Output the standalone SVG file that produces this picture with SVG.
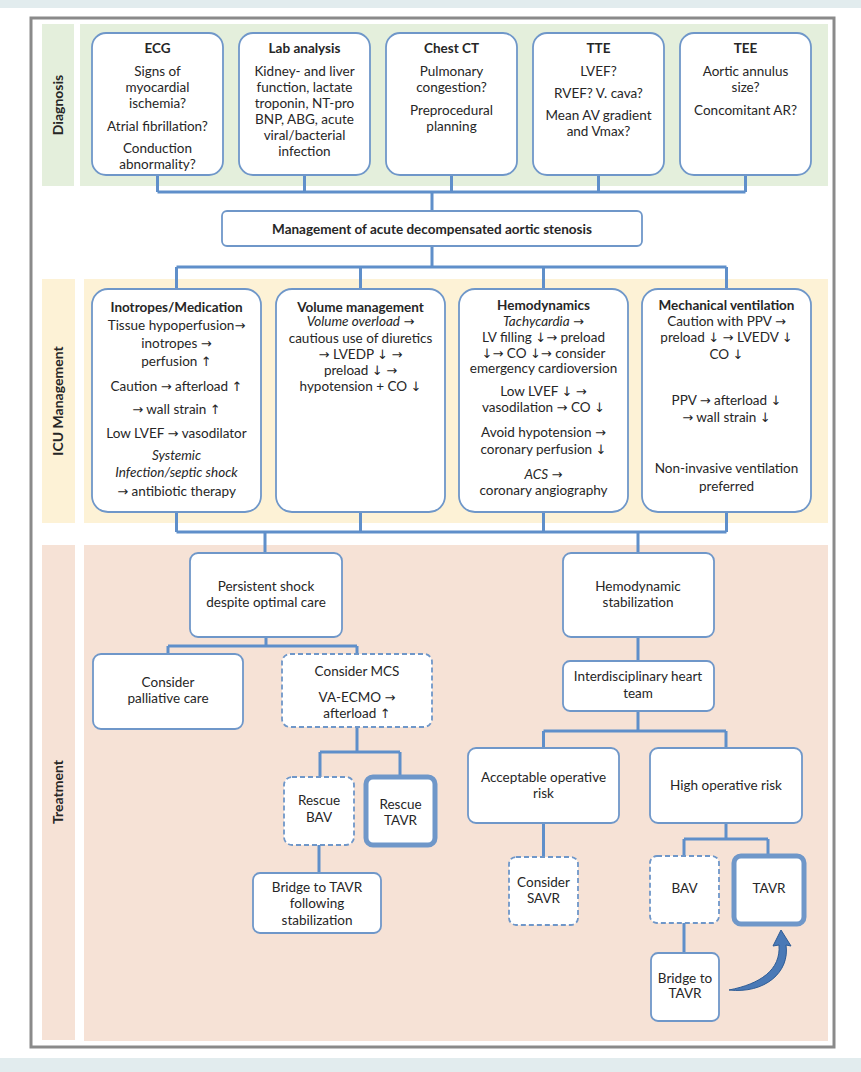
<svg xmlns="http://www.w3.org/2000/svg" width="861" height="1072" viewBox="0 0 861 1072">
<style>
text{font-family:Lato,"Liberation Sans","DejaVu Sans",sans-serif;font-size:13.5px;fill:#262626;text-anchor:middle}
.b{font-weight:bold}
.i{font-style:italic}
.a{font-family:"DejaVu Sans",sans-serif;font-style:normal;font-size:13px}
.lab{font-weight:bold;font-size:14px}
.box{fill:#fff;stroke:#6f97c9;stroke-width:1.8}
.dash{fill:#fff;stroke:#6f97c9;stroke-width:1.8;stroke-dasharray:5 3}
.thick{fill:#fff;stroke:#6f97c9;stroke-width:5}
.con{fill:none;stroke:#5f8fca;stroke-width:3}
</style>
<rect x="0" y="0" width="861" height="1072" fill="#fff"/>
<rect x="0" y="0" width="861" height="8" fill="#e2ecee"/>
<rect x="0" y="1058" width="861" height="14" fill="#e2ecee"/>
<rect x="31" y="18" width="803" height="1029" fill="#fff" stroke="#8a8a8a" stroke-width="3"/>
<g id="bands">
<rect x="42" y="24" width="32" height="162" fill="#e4efdc"/>
<rect x="80" y="24" width="748" height="162" fill="#e4efdc"/>
<rect x="42" y="279" width="33" height="244" fill="#fdf2d6"/>
<rect x="84" y="279" width="744" height="244" fill="#fdf2d6"/>
<rect x="42" y="545" width="33" height="495" fill="#f6e2d6"/>
<rect x="84" y="545" width="744" height="496" fill="#f6e2d6"/>
<text class="lab" transform="translate(63,105) rotate(-90)">Diagnosis</text>
<text class="lab" transform="translate(63,401) rotate(-90)">ICU Management</text>
<text class="lab" transform="translate(63,792) rotate(-90)">Treatment</text>
</g>
<g id="connectors">
<path class="con" d="M157.5,175V192M304.5,175V192M451.5,175V192M598.5,175V192M745.5,175V192M157.5,192H745.5M432,192V211"/>
<path class="con" d="M432,246V267M176.5,267H726.5M176.5,267V289M360.5,267V289M543.5,267V289M726.5,267V289"/>
<path class="con" d="M176.5,512V532M360.5,512V532M543.5,512V532M726.5,512V532M176.5,532H726.5M265,532V553M638,532V553"/>
<path class="con" d="M266,637V646M168,646H357M168,646V654M357,646V654"/>
<path class="con" d="M357,727V752M320,752H400M320,752V777M400,752V776M319,845V873"/>
<path class="con" d="M638,637V661M638,711V731M543.5,731H726M543.5,731V748M726,731V748"/>
<path class="con" d="M543.5,823V857M726,823V839M684,839H768M684,839V856M768,839V854M684,923V953"/>
<path d="M729,990 C765,994 790,972 786,945 L791,946 L781,930 L773,946 L779,945 C781,970 760,984 729,990 Z" fill="#4a79b6" stroke="#2e5c95" stroke-width="1"/>
</g>
<g id="ecg">
<rect class="box" x="92" y="33" width="131" height="142" rx="14"/>
<text class="b" x="157.5" y="53">ECG</text>
<text x="157.5" y="76">Signs of</text>
<text x="157.5" y="92">myocardial</text>
<text x="157.5" y="108">ischemia?</text>
<text x="157.5" y="131">Atrial fibrillation?</text>
<text x="157.5" y="153">Conduction</text>
<text x="157.5" y="169">abnormality?</text>
</g>
<g id="lab">
<rect class="box" x="239" y="33" width="131" height="142" rx="14"/>
<text class="b" x="304.5" y="53">Lab analysis</text>
<text x="304.5" y="76">Kidney- and liver</text>
<text x="304.5" y="92">function, lactate</text>
<text x="304.5" y="108">troponin, NT-pro</text>
<text x="304.5" y="124">BNP, ABG, acute</text>
<text x="304.5" y="140">viral/bacterial</text>
<text x="304.5" y="156">infection</text>
</g>
<g id="ct">
<rect class="box" x="386" y="33" width="131" height="142" rx="14"/>
<text class="b" x="451.5" y="53">Chest CT</text>
<text x="451.5" y="76">Pulmonary</text>
<text x="451.5" y="92">congestion?</text>
<text x="451.5" y="115">Preprocedural</text>
<text x="451.5" y="131">planning</text>
</g>
<g id="tte">
<rect class="box" x="533" y="33" width="131" height="142" rx="14"/>
<text class="b" x="598.5" y="53">TTE</text>
<text x="598.5" y="76">LVEF?</text>
<text x="598.5" y="98">RVEF? V. cava?</text>
<text x="598.5" y="120">Mean AV gradient</text>
<text x="598.5" y="136">and Vmax?</text>
</g>
<g id="tee">
<rect class="box" x="680" y="33" width="131" height="142" rx="14"/>
<text class="b" x="745.5" y="53">TEE</text>
<text x="745.5" y="76">Aortic annulus</text>
<text x="745.5" y="92">size?</text>
<text x="745.5" y="115">Concomitant AR?</text>
</g>
<g id="management">
<rect class="box" x="222" y="211" width="420" height="35" rx="5"/>
<text class="b" x="432" y="234">Management of acute decompensated aortic stenosis</text>
</g>
<g id="inotropes">
<rect class="box" x="92" y="289" width="169" height="223" rx="16"/>
<text class="b" x="176.5" y="312">Inotropes/Medication</text>
<text x="176.5" y="330">Tissue hypoperfusion<tspan class="a">→</tspan></text>
<text x="176.5" y="348">inotropes <tspan class="a">→</tspan></text>
<text x="176.5" y="366">perfusion <tspan class="a">↑</tspan></text>
<text x="176.5" y="391">Caution <tspan class="a">→</tspan> afterload <tspan class="a">↑</tspan></text>
<text x="176.5" y="414"><tspan class="a">→</tspan> wall strain <tspan class="a">↑</tspan></text>
<text x="176.5" y="438">Low LVEF <tspan class="a">→</tspan> vasodilator</text>
<text class="i" x="176.5" y="460">Systemic</text>
<text class="i" x="176.5" y="477">Infection/septic shock</text>
<text x="176.5" y="496"><tspan class="a">→</tspan> antibiotic therapy</text>
</g>
<g id="volume">
<rect class="box" x="276" y="289" width="169" height="223" rx="16"/>
<text class="b" x="360.5" y="312">Volume management</text>
<text x="360.5" y="326"><tspan class="i">Volume overload</tspan> <tspan class="a">→</tspan></text>
<text x="360.5" y="343">cautious use of diuretics</text>
<text x="360.5" y="359"><tspan class="a">→</tspan> LVEDP <tspan class="a">↓</tspan> <tspan class="a">→</tspan></text>
<text x="360.5" y="375">preload <tspan class="a">↓</tspan> <tspan class="a">→</tspan></text>
<text x="360.5" y="391">hypotension + CO <tspan class="a">↓</tspan></text>
</g>
<g id="hemodynamics">
<rect class="box" x="459" y="289" width="169" height="223" rx="16"/>
<text class="b" x="543.5" y="310">Hemodynamics</text>
<text x="543.5" y="326"><tspan class="i">Tachycardia</tspan> <tspan class="a">→</tspan></text>
<text x="543.5" y="342">LV filling <tspan class="a">↓→</tspan> preload</text>
<text x="543.5" y="358"><tspan class="a">↓→</tspan> CO <tspan class="a">↓→</tspan> consider</text>
<text x="543.5" y="373">emergency cardioversion</text>
<text x="543.5" y="396">Low LVEF <tspan class="a">↓</tspan>  <tspan class="a">→</tspan></text>
<text x="543.5" y="412">vasodilation <tspan class="a">→</tspan> CO <tspan class="a">↓</tspan></text>
<text x="543.5" y="437">Avoid hypotension <tspan class="a">→</tspan></text>
<text x="543.5" y="454">coronary perfusion <tspan class="a">↓</tspan></text>
<text x="543.5" y="479"><tspan class="i">ACS</tspan> <tspan class="a">→</tspan></text>
<text x="543.5" y="495">coronary angiography</text>
</g>
<g id="ventilation">
<rect class="box" x="642" y="289" width="169" height="223" rx="16"/>
<text class="b" x="726.5" y="310">Mechanical ventilation</text>
<text x="726.5" y="326">Caution with PPV <tspan class="a">→</tspan></text>
<text x="726.5" y="342">preload <tspan class="a">↓</tspan> <tspan class="a">→</tspan> LVEDV <tspan class="a">↓</tspan></text>
<text x="726.5" y="359">CO <tspan class="a">↓</tspan></text>
<text x="726.5" y="405">PPV <tspan class="a">→</tspan> afterload <tspan class="a">↓</tspan></text>
<text x="726.5" y="422"><tspan class="a">→</tspan> wall strain  <tspan class="a">↓</tspan></text>
<text x="726.5" y="473">Non-invasive ventilation</text>
<text x="726.5" y="491">preferred</text>
</g>
<g id="persistent-shock">
<rect class="box" x="190" y="553" width="152" height="84" rx="8"/>
<text x="266" y="591">Persistent shock</text>
<text x="266" y="607">despite optimal care</text>
</g>
<g id="palliative">
<rect class="box" x="93" y="654" width="150" height="75" rx="8"/>
<text x="168" y="687">Consider</text>
<text x="168" y="703">palliative care</text>
</g>
<g id="mcs">
<rect class="dash" x="282" y="654" width="150" height="73" rx="8"/>
<text x="357" y="676">Consider MCS</text>
<text x="357" y="702">VA-ECMO <tspan class="a">→</tspan></text>
<text x="357" y="718">afterload <tspan class="a">↑</tspan></text>
</g>
<g id="rescue-bav">
<rect class="dash" x="284" y="777" width="70" height="68" rx="8"/>
<text x="319" y="805">Rescue</text>
<text x="319" y="822">BAV</text>
</g>
<g id="rescue-tavr">
<rect class="thick" x="366" y="777" width="69" height="68" rx="7"/>
<text x="400.5" y="809">Rescue</text>
<text x="400.5" y="825">TAVR</text>
</g>
<g id="bridge-stabilization">
<rect class="box" x="253" y="873" width="128" height="60" rx="7"/>
<text x="317" y="892">Bridge to TAVR</text>
<text x="317" y="908">following</text>
<text x="317" y="925">stabilization</text>
</g>
<g id="hemodynamic-stabilization">
<rect class="box" x="563" y="553" width="151" height="84" rx="8"/>
<text x="638" y="591">Hemodynamic</text>
<text x="638" y="607">stabilization</text>
</g>
<g id="heart-team">
<rect class="box" x="563" y="661" width="151" height="50" rx="7"/>
<text x="638" y="681">Interdisciplinary heart</text>
<text x="638" y="698">team</text>
</g>
<g id="acceptable-risk">
<rect class="box" x="468" y="748" width="151" height="75" rx="8"/>
<text x="543.5" y="782">Acceptable operative</text>
<text x="543.5" y="798">risk</text>
</g>
<g id="high-risk">
<rect class="box" x="650" y="748" width="152" height="75" rx="8"/>
<text x="726" y="790">High operative risk</text>
</g>
<g id="savr">
<rect class="dash" x="509" y="857" width="69" height="68" rx="7"/>
<text x="543.5" y="887">Consider</text>
<text x="543.5" y="903">SAVR</text>
</g>
<g id="bav">
<rect class="dash" x="650" y="856" width="69" height="67" rx="7"/>
<text x="684.5" y="893">BAV</text>
</g>
<g id="tavr">
<rect class="thick" x="734" y="856" width="70" height="68" rx="7"/>
<text x="769" y="893">TAVR</text>
</g>
<g id="bridge-tavr">
<rect class="box" x="651" y="953" width="68" height="68" rx="7"/>
<text x="685" y="983">Bridge to</text>
<text x="685" y="998">TAVR</text>
</g>
</svg>
